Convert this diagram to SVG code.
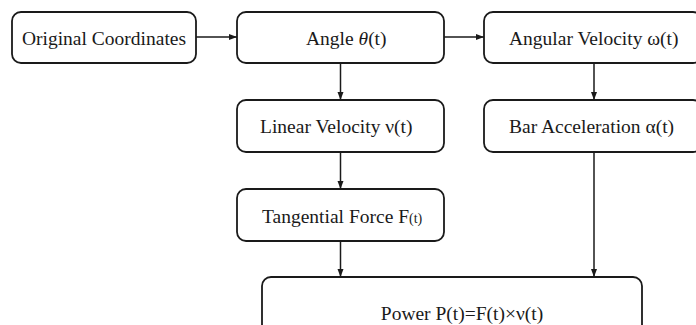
<svg xmlns="http://www.w3.org/2000/svg" width="696" height="325" viewBox="0 0 696 325">
<style>
.box{fill:#fff;stroke:#1a1a1a;stroke-width:1.8}
.lbl{font-family:"Liberation Serif","Times New Roman",serif;font-size:19.5px;fill:#1a1a1a}
.sm{font-size:14px}
.con{stroke:#1a1a1a;stroke-width:1.5;fill:none;marker-end:url(#ah)}
</style>
<defs>
<marker id="ah" viewBox="0 0 8 8" refX="8" refY="4" markerWidth="8" markerHeight="8" markerUnits="userSpaceOnUse" orient="auto">
<path d="M0,1 L8,4 L0,7 Z" fill="#1a1a1a"/>
</marker>
</defs>
<rect width="696" height="325" fill="#fff"/>
<g id="connectors">
<line class="con" x1="196" y1="37" x2="237" y2="37"/>
<line class="con" x1="444" y1="37" x2="484" y2="37"/>
<line class="con" x1="340.5" y1="63" x2="340.5" y2="100"/>
<line class="con" x1="594" y1="63" x2="594" y2="100"/>
<line class="con" x1="340.5" y1="152" x2="340.5" y2="189"/>
<line class="con" x1="340.5" y1="241" x2="340.5" y2="277"/>
<line class="con" x1="594" y1="152" x2="594" y2="277"/>
</g>
<g id="n-original">
<rect class="box" x="12" y="12" width="184" height="51" rx="9"/>
<text class="lbl" x="104" y="45" text-anchor="middle">Original Coordinates</text>
</g>
<g id="n-angle">
<rect class="box" x="237" y="12" width="207" height="51" rx="9"/>
<text class="lbl" x="306" y="45">Angle <tspan font-style="italic">θ</tspan>(t)</text>
</g>
<g id="n-angular">
<rect class="box" x="484" y="12" width="218" height="51" rx="9"/>
<text class="lbl" x="509" y="45">Angular Velocity ω(t)</text>
</g>
<g id="n-linear">
<rect class="box" x="237" y="100" width="207" height="52" rx="9"/>
<text class="lbl" x="260" y="133">Linear Velocity ν(t)</text>
</g>
<g id="n-bar">
<rect class="box" x="484" y="100" width="218" height="52" rx="9"/>
<text class="lbl" x="509" y="133">Bar Acceleration α(t)</text>
</g>
<g id="n-tangential">
<rect class="box" x="237" y="189" width="207" height="52" rx="9"/>
<text class="lbl" x="262" y="223">Tangential Force F<tspan class="sm">(t)</tspan></text>
</g>
<g id="n-power">
<rect class="box" x="262" y="277" width="380" height="60" rx="9"/>
<text class="lbl" x="462" y="320" text-anchor="middle">Power P(t)=F(t)×ν(t)</text>
</g>
</svg>
